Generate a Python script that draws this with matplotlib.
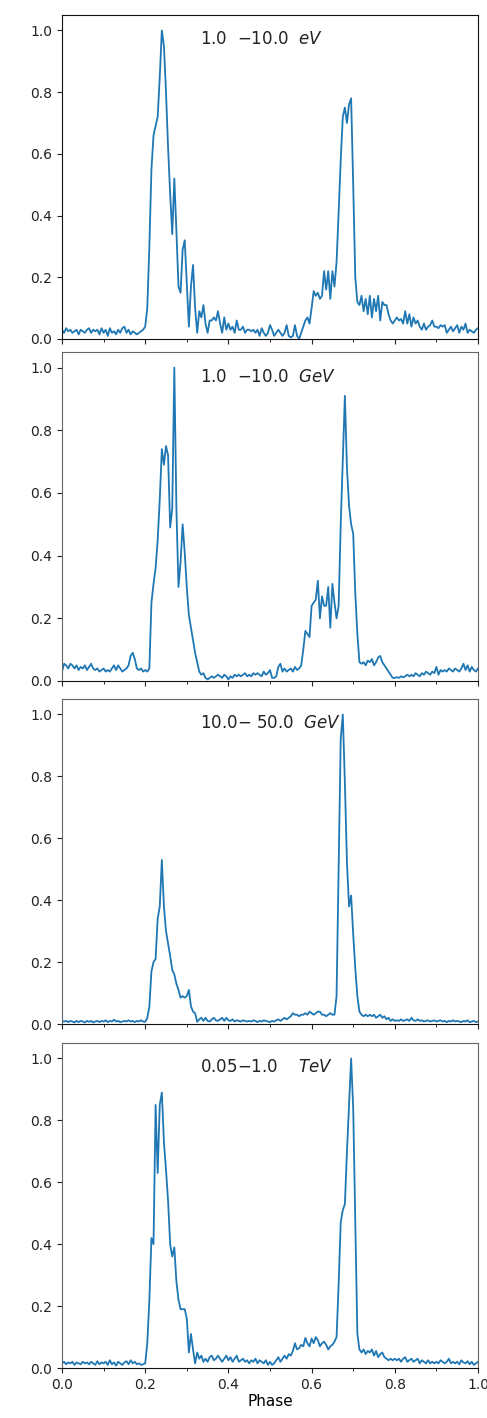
import numpy as np
import matplotlib
matplotlib.use("Agg")
import matplotlib.pyplot as plt
from matplotlib.ticker import MultipleLocator

# Phase grid shared by all light curves (bin width 0.005)
phase = np.linspace(0.0, 1.0, 201)

# Normalised pulse profiles, one per energy band
profile_ev = [
    0.030, 0.020, 0.035, 0.025, 0.030, 0.020, 0.025, 0.030, 0.015, 0.030,
    0.025, 0.020, 0.030, 0.035, 0.020, 0.030, 0.025, 0.030, 0.015, 0.035,
    0.020, 0.030, 0.010, 0.035, 0.020, 0.025, 0.015, 0.030, 0.020, 0.035,
    0.040, 0.020, 0.030, 0.015, 0.025, 0.020, 0.015, 0.020, 0.025, 0.030,
    0.040, 0.100, 0.300, 0.550, 0.660, 0.690, 0.720, 0.850, 1.000, 0.950,
    0.800, 0.620, 0.470, 0.340, 0.520, 0.350, 0.170, 0.150, 0.290, 0.320,
    0.180, 0.040, 0.170, 0.240, 0.100, 0.020, 0.090, 0.070, 0.110, 0.050,
    0.020, 0.060, 0.060, 0.070, 0.060, 0.090, 0.050, 0.020, 0.070, 0.030,
    0.050, 0.030, 0.040, 0.020, 0.060, 0.030, 0.030, 0.040, 0.020, 0.030,
    0.030, 0.025, 0.030, 0.020, 0.030, 0.010, 0.035, 0.020, 0.010, 0.020,
    0.045, 0.030, 0.010, 0.020, 0.030, 0.020, 0.010, 0.020, 0.045, 0.010,
    0.005, 0.010, 0.045, 0.010, 0.000, 0.020, 0.040, 0.060, 0.070, 0.050,
    0.100, 0.155, 0.140, 0.150, 0.130, 0.140, 0.220, 0.160, 0.220, 0.130,
    0.220, 0.170, 0.250, 0.410, 0.580, 0.720, 0.750, 0.700, 0.760, 0.780,
    0.500, 0.200, 0.120, 0.110, 0.140, 0.090, 0.130, 0.080, 0.140, 0.070,
    0.130, 0.090, 0.140, 0.060, 0.120, 0.110, 0.110, 0.080, 0.060, 0.050,
    0.060, 0.070, 0.060, 0.065, 0.050, 0.090, 0.050, 0.080, 0.040, 0.070,
    0.050, 0.060, 0.040, 0.030, 0.050, 0.030, 0.040, 0.045, 0.060, 0.040,
    0.040, 0.035, 0.045, 0.040, 0.045, 0.020, 0.030, 0.040, 0.025, 0.035,
    0.045, 0.020, 0.040, 0.030, 0.050, 0.020, 0.030, 0.025, 0.020, 0.030,
    0.035,
]

profile_gev_low = [
    0.030, 0.055, 0.050, 0.040, 0.055, 0.050, 0.040, 0.050, 0.035, 0.045,
    0.040, 0.050, 0.035, 0.045, 0.055, 0.040, 0.035, 0.040, 0.030, 0.035,
    0.040, 0.030, 0.035, 0.030, 0.040, 0.050, 0.035, 0.050, 0.040, 0.030,
    0.035, 0.040, 0.050, 0.080, 0.090, 0.070, 0.040, 0.035, 0.040, 0.030,
    0.035, 0.030, 0.040, 0.250, 0.310, 0.360, 0.450, 0.580, 0.740, 0.690,
    0.750, 0.720, 0.490, 0.550, 1.000, 0.550, 0.300, 0.380, 0.500, 0.410,
    0.300, 0.210, 0.170, 0.130, 0.090, 0.060, 0.030, 0.020, 0.025, 0.010,
    0.005, 0.010, 0.015, 0.010, 0.015, 0.020, 0.015, 0.010, 0.020, 0.015,
    0.005, 0.015, 0.010, 0.020, 0.015, 0.020, 0.015, 0.020, 0.025, 0.015,
    0.020, 0.015, 0.025, 0.020, 0.025, 0.020, 0.015, 0.030, 0.020, 0.025,
    0.035, 0.010, 0.010, 0.015, 0.045, 0.055, 0.030, 0.040, 0.030, 0.035,
    0.040, 0.030, 0.045, 0.035, 0.040, 0.050, 0.100, 0.160, 0.150, 0.140,
    0.240, 0.250, 0.260, 0.320, 0.200, 0.270, 0.240, 0.240, 0.300, 0.170,
    0.310, 0.250, 0.200, 0.240, 0.500, 0.700, 0.910, 0.680, 0.560, 0.500,
    0.470, 0.280, 0.150, 0.060, 0.055, 0.060, 0.050, 0.065, 0.060, 0.070,
    0.050, 0.060, 0.075, 0.080, 0.060, 0.050, 0.040, 0.030, 0.020, 0.010,
    0.010, 0.012, 0.010, 0.015, 0.012, 0.015, 0.020, 0.015, 0.020, 0.015,
    0.025, 0.020, 0.015, 0.025, 0.020, 0.030, 0.025, 0.020, 0.030, 0.025,
    0.045, 0.020, 0.035, 0.030, 0.035, 0.030, 0.040, 0.035, 0.030, 0.040,
    0.035, 0.030, 0.040, 0.055, 0.035, 0.050, 0.030, 0.045, 0.035, 0.030,
    0.040,
]

profile_gev_high = [
    0.010, 0.008, 0.010, 0.006, 0.010, 0.008, 0.005, 0.010, 0.006, 0.010,
    0.008, 0.005, 0.010, 0.007, 0.010, 0.005, 0.008, 0.010, 0.006, 0.010,
    0.008, 0.012, 0.006, 0.010, 0.008, 0.014, 0.008, 0.010, 0.006, 0.008,
    0.010, 0.008, 0.012, 0.008, 0.010, 0.006, 0.010, 0.008, 0.012, 0.008,
    0.007, 0.020, 0.056, 0.170, 0.200, 0.210, 0.340, 0.380, 0.530, 0.380,
    0.300, 0.260, 0.220, 0.175, 0.160, 0.130, 0.110, 0.085, 0.090, 0.085,
    0.090, 0.110, 0.057, 0.040, 0.035, 0.007, 0.015, 0.020, 0.010, 0.020,
    0.010, 0.008, 0.015, 0.020, 0.012, 0.010, 0.015, 0.020, 0.010, 0.020,
    0.012, 0.010, 0.015, 0.008, 0.012, 0.010, 0.008, 0.012, 0.010, 0.008,
    0.010, 0.008, 0.012, 0.010, 0.006, 0.010, 0.008, 0.012, 0.010, 0.008,
    0.006, 0.010, 0.008, 0.012, 0.015, 0.010, 0.015, 0.020, 0.015, 0.020,
    0.025, 0.035, 0.030, 0.030, 0.025, 0.030, 0.030, 0.035, 0.030, 0.040,
    0.035, 0.030, 0.035, 0.040, 0.040, 0.030, 0.030, 0.025, 0.030, 0.035,
    0.030, 0.030, 0.090, 0.500, 0.920, 1.000, 0.780, 0.520, 0.380, 0.415,
    0.290, 0.180, 0.090, 0.040, 0.030, 0.025, 0.030, 0.025, 0.030, 0.025,
    0.030, 0.020, 0.025, 0.030, 0.020, 0.025, 0.015, 0.020, 0.010, 0.015,
    0.010, 0.012, 0.010, 0.015, 0.010, 0.012, 0.015, 0.010, 0.020, 0.012,
    0.010, 0.015, 0.010, 0.012, 0.008, 0.010, 0.012, 0.008, 0.010, 0.012,
    0.008, 0.010, 0.012, 0.008, 0.010, 0.006, 0.010, 0.008, 0.012, 0.008,
    0.010, 0.008, 0.006, 0.010, 0.008, 0.012, 0.006, 0.008, 0.010, 0.006,
    0.008,
]

profile_tev = [
    0.015, 0.020, 0.012, 0.018, 0.015, 0.020, 0.010, 0.018, 0.015, 0.012,
    0.020, 0.015, 0.018, 0.012, 0.020, 0.015, 0.010, 0.022, 0.012, 0.018,
    0.015, 0.020, 0.010, 0.025, 0.012, 0.018, 0.008, 0.020, 0.015, 0.010,
    0.018, 0.022, 0.012, 0.025, 0.015, 0.020, 0.012, 0.015, 0.010, 0.012,
    0.015, 0.080, 0.220, 0.420, 0.400, 0.850, 0.630, 0.850, 0.890, 0.730,
    0.640, 0.540, 0.400, 0.360, 0.390, 0.280, 0.220, 0.190, 0.190, 0.190,
    0.160, 0.050, 0.110, 0.060, 0.015, 0.050, 0.030, 0.040, 0.020, 0.030,
    0.020, 0.035, 0.040, 0.025, 0.030, 0.040, 0.030, 0.020, 0.030, 0.040,
    0.025, 0.035, 0.020, 0.030, 0.040, 0.020, 0.025, 0.030, 0.020, 0.025,
    0.015, 0.025, 0.020, 0.030, 0.015, 0.025, 0.020, 0.015, 0.025, 0.010,
    0.020, 0.010, 0.015, 0.025, 0.035, 0.020, 0.030, 0.040, 0.030, 0.045,
    0.040, 0.055, 0.080, 0.060, 0.064, 0.075, 0.070, 0.097, 0.080, 0.070,
    0.095, 0.080, 0.100, 0.090, 0.070, 0.080, 0.085, 0.075, 0.060, 0.070,
    0.075, 0.085, 0.100, 0.270, 0.470, 0.510, 0.530, 0.700, 0.850, 1.000,
    0.840, 0.470, 0.110, 0.060, 0.050, 0.060, 0.045, 0.055, 0.050, 0.060,
    0.040, 0.055, 0.035, 0.045, 0.050, 0.035, 0.030, 0.025, 0.030, 0.025,
    0.030, 0.025, 0.030, 0.020, 0.030, 0.035, 0.020, 0.025, 0.030, 0.020,
    0.025, 0.030, 0.015, 0.025, 0.020, 0.015, 0.025, 0.015, 0.020, 0.015,
    0.020, 0.015, 0.025, 0.020, 0.015, 0.020, 0.030, 0.015, 0.020, 0.015,
    0.020, 0.012, 0.025, 0.018, 0.015, 0.022, 0.012, 0.020, 0.010, 0.015,
    0.020,
]

band_labels = [
    r"1.0  $-$10.0  $eV$",
    r"1.0  $-$10.0  $GeV$",
    r"10.0$-$ 50.0  $GeV$",
    r"0.05$-$1.0    $TeV$",
]
profiles = [profile_ev, profile_gev_low, profile_gev_high, profile_tev]
x_ticks = [0.0, 0.2, 0.4, 0.6, 0.8, 1.0]
y_ticks = [0.0, 0.2, 0.4, 0.6, 0.8, 1.0]

W, H = 487, 1418
fig = plt.figure(figsize=(W / 100, H / 100), dpi=100)

# panel rectangles in pixels: (top, bottom)
panel_px = [(15, 339), (352, 681), (699, 1024), (1043, 1368)]
left_px, right_px = 62, 478

for k, (prof, label, (top, bot)) in enumerate(zip(profiles, band_labels, panel_px)):
    assert len(prof) == len(phase)
    ax = fig.add_axes([left_px / W, 1 - bot / H, (right_px - left_px) / W, (bot - top) / H])
    ax.plot(phase, prof, color="#1f77b4", lw=1.3)
    ax.set_xlim(0, 1)
    ax.set_ylim(0, 1.05)
    ax.set_xticks(x_ticks)
    ax.xaxis.set_minor_locator(MultipleLocator(0.1))
    ax.set_yticks(y_ticks)
    ax.tick_params(labelsize=10, colors="#222222")
    spine_col = "#111111" if k == 0 else "#666666"
    for s in ax.spines.values():
        s.set_color(spine_col)
    ax.spines["bottom"].set_color("#111111")
    ax.text(0.332, 0.925, label, transform=ax.transAxes, fontsize=12,
            ha="left", va="center", color="#222222")
    if k < 3:
        ax.tick_params(axis="x", labelbottom=False)
    else:
        ax.set_xticklabels([f"{t:.1f}" for t in x_ticks])
        ax.set_xlabel("Phase", fontsize=11, labelpad=2)

fig.savefig("out.png", dpi=100)
